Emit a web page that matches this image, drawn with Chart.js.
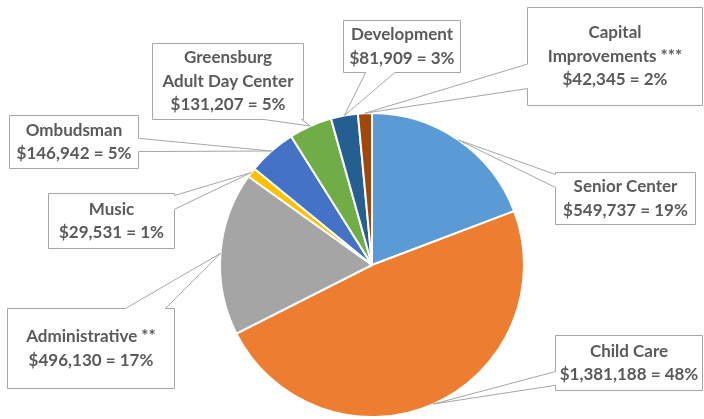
<!DOCTYPE html>
<html>
<head>
<meta charset="utf-8">
<script src="https://cdn.jsdelivr.net/npm/chart.js@4.4.1/dist/chart.umd.min.js"></script>
<style>
  html, body { margin: 0; padding: 0; background: #ffffff; }
  #wrap { position: relative; width: 704px; height: 419px; }
</style>
</head>
<body>
<div id="wrap"><canvas id="chart_budgetPie"></canvas></div>
<script>
// data, clockwise from 12 o'clock
var categories = ['Senior Center', 'Child Care', 'Administrative', 'Music', 'Ombudsman',
                  'Greensburg Adult Day Center', 'Development', 'Capital Improvements'];
var amounts = [549737, 1381188, 496130, 29531, 146942, 131207, 81909, 42345];
var percents = [19, 48, 17, 1, 5, 5, 3, 2];
var labelNames = [
    ['Senior Center'],
    ['Child Care'],
    ['Administrative **'],
    ['Music'],
    ['Ombudsman'],
    ['Greensburg', 'Adult Day Center'],
    ['Development'],
    ['Capital', 'Improvements ***']
];
var sliceColors = ['#5B9BD5', '#ED7D31', '#A5A5A5', '#FFC000', '#4472C4', '#70AD47', '#255E91', '#9E480E'];

// callout box layout (left, top, width, height) in canvas pixels
var calloutBoxes = [
    [555, 172, 140, 52],
    [555, 335, 147, 55],
    [7, 308, 167, 80],
    [48, 193, 126, 55],
    [9, 115, 129, 53],
    [152, 43, 151, 76],
    [343, 20, 117, 52],
    [527, 7, 175, 98]
];

function money(v) {
    return '$' + v.toLocaleString('en-US');
}

function drawCallout(ctx, box, ax, ay, lines) {
    var bx = box[0] + 0.5, by = box[1] + 0.5, bw = box[2], bh = box[3];
    var cx = bx + bw / 2, cy = by + bh / 2;
    var dx = ax - cx, dy = ay - cy;
    var tx = dx !== 0 ? (bw / 2) / Math.abs(dx) : Infinity;
    var ty = dy !== 0 ? (bh / 2) / Math.abs(dy) : Infinity;
    var edge, pos, len, base;
    if (tx < ty) {
        edge = dx > 0 ? 'right' : 'left';
        pos = cy + dy * tx;
        len = bh;
        base = Math.min(len * 0.25, 40);
        pos = Math.max(by + base / 2 + 2, Math.min(by + bh - base / 2 - 2, pos));
    } else {
        edge = dy > 0 ? 'bottom' : 'top';
        pos = cx + dx * ty;
        len = bw;
        base = Math.min(len * 0.25, 40);
        pos = Math.max(bx + base / 2 + 2, Math.min(bx + bw - base / 2 - 2, pos));
    }
    var r = bx + bw, b = by + bh;
    ctx.beginPath();
    ctx.moveTo(bx, by);
    if (edge === 'top') { ctx.lineTo(pos - base / 2, by); ctx.lineTo(ax, ay); ctx.lineTo(pos + base / 2, by); }
    ctx.lineTo(r, by);
    if (edge === 'right') { ctx.lineTo(r, pos - base / 2); ctx.lineTo(ax, ay); ctx.lineTo(r, pos + base / 2); }
    ctx.lineTo(r, b);
    if (edge === 'bottom') { ctx.lineTo(pos + base / 2, b); ctx.lineTo(ax, ay); ctx.lineTo(pos - base / 2, b); }
    ctx.lineTo(bx, b);
    if (edge === 'left') { ctx.lineTo(bx, pos + base / 2); ctx.lineTo(ax, ay); ctx.lineTo(bx, pos - base / 2); }
    ctx.closePath();
    ctx.fillStyle = '#ffffff';
    ctx.fill();
    ctx.strokeStyle = '#A6A6A6';
    ctx.lineWidth = 1;
    ctx.stroke();

    ctx.fillStyle = '#5a5a5a';
    ctx.font = 'bold 17px Lato';
    ctx.textAlign = 'center';
    ctx.textBaseline = 'middle';
    var lh = 23.5;
    var y0 = cy - (lines.length - 1) * lh / 2;
    for (var i = 0; i < lines.length; i++) {
        ctx.fillText(lines[i], cx, y0 + i * lh);
    }
}

var chart_budgetPie = new Chart(document.getElementById('chart_budgetPie'), {
    type: 'pie',
    data: {
        labels: categories,
        datasets: [{
            data: amounts,
            backgroundColor: sliceColors,
            borderColor: '#ffffff',
            borderWidth: 2
        }]
    },
    options: {
        animation: false,
        responsive: true,
        maintainAspectRatio: false,
        layout: {
            padding: { left: 219, right: 179, top: 112, bottom: 1 }
        },
        plugins: {
            legend: { display: false },
            tooltip: { enabled: false }
        }
    },
    plugins: [{
        id: 'callouts',
        afterDraw: (chart) => {
            const ctx = chart.ctx;
            const arcs = chart.getDatasetMeta(0).data;
            ctx.save();
            arcs.forEach((arc, i) => {
                const p = arc.getProps(['x', 'y', 'startAngle', 'endAngle', 'outerRadius'], true);
                const mid = (p.startAngle + p.endAngle) / 2;
                const ax = p.x + Math.cos(mid) * p.outerRadius;
                const ay = p.y + Math.sin(mid) * p.outerRadius;
                const lines = labelNames[i].concat([money(amounts[i]) + ' = ' + percents[i] + '%']);
                drawCallout(ctx, calloutBoxes[i], ax, ay, lines);
            });
            ctx.restore();
        }
    }]
});
</script>
</body>
</html>
